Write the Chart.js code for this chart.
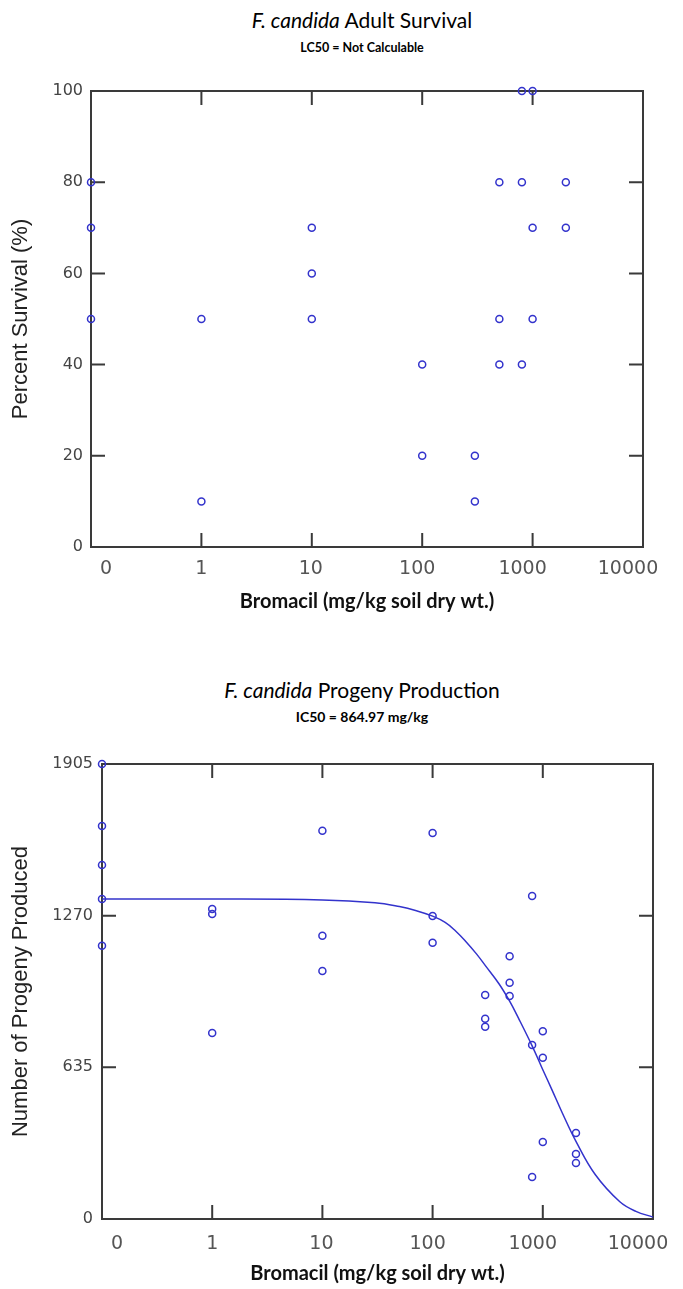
<!DOCTYPE html>
<html>
<head>
<meta charset="utf-8">
<script src="https://cdn.jsdelivr.net/npm/chart.js@4"></script>
<style>
  body { margin: 0; background: #fff; width: 683px; height: 1289px; position: relative; overflow: hidden; }
  .title { position: absolute; transform: translateX(-50%); white-space: nowrap; font-family: Lato, sans-serif; color: #000; text-align: center; }
  .main { font-size: 21px; line-height: 24px; }
  .sub { line-height: 18px; font-weight: bold; }
  .wrap { position: absolute; left: 0; }
</style>
</head>
<body>
<div class="title main" style="left:362px; top:8px"><i>F. candida</i> Adult Survival</div>
<div class="title sub" style="left:362px; top:39px; font-size:12.5px">LC50 = Not Calculable</div>
<div class="wrap" style="top:60px"><canvas id="survivalChart" width="683" height="580"></canvas></div>

<div class="title main" style="left:362px; top:678px"><i>F. candida</i> Progeny Production</div>
<div class="title sub" style="left:362px; top:708px; font-size:14px">IC50 = 864.97 mg/kg</div>
<div class="wrap" style="top:730px"><canvas id="progenyChart" width="683" height="559"></canvas></div>

<script>
// control (0 mg/kg) is drawn at the left edge of the log axis
const CONTROL_X = 0.1

const xTickValues = [0.1, 1, 10, 100, 1000, 10000]
const xTickLabels = ['0', '1', '10', '100', '1000', '10000']

// adult survival (%)
const survivalDose = [0, 0, 0, 1, 1, 10, 10, 10, 100, 100, 300, 300, 500, 500, 500, 800, 800, 800, 1000, 1000, 1000, 2000, 2000]
const survivalPct = [80, 70, 50, 50, 10, 70, 60, 50, 40, 20, 20, 10, 80, 50, 40, 100, 80, 40, 100, 70, 50, 80, 70]
const survivalYTicks = [0, 20, 40, 60, 80, 100]

// progeny counts
const progenyDose = [0, 0, 0, 0, 0, 1, 1, 1, 10, 10, 10, 100, 100, 100, 300, 300, 300, 500, 500, 500, 800, 800, 800, 1000, 1000, 1000, 2000, 2000, 2000]
const progenyCount = [1905, 1645, 1482, 1340, 1144, 1298, 1277, 779, 1626, 1186, 1038, 1616, 1269, 1157, 938, 838, 805, 1100, 989, 934, 1352, 729, 176, 786, 675, 322, 360, 272, 234]
const progenyYTicks = [0, 635, 1270, 1905]

// fitted curve
const curveDose = [0.1, 1, 10, 30, 50, 70, 100, 130, 160, 200, 250, 300, 400, 500, 600, 800, 1000, 1200, 1500, 2000, 3000, 5000, 7000, 10000]
const curveCount = [1340, 1340, 1336, 1324, 1308, 1292, 1268, 1242, 1208, 1162, 1110, 1062, 985, 912, 842, 725, 625, 545, 445, 325, 185, 72, 32, 8]

const pointColor = '#3333cc'
const axisColor = '#3a3a3a'

const toXY = (dose, vals) => dose.map((d, i) => ({ x: d === 0 ? CONTROL_X : d, y: vals[i] }))

// frame, inward tick marks on all four sides, and the x labels
const framePlugin = {
    id: 'frame',
    beforeDatasetsDraw(chart, args, opts) {
        const { ctx, chartArea: a, scales } = chart
        const len = 14
        ctx.save()
        ctx.strokeStyle = axisColor
        ctx.lineWidth = 2
        ctx.strokeRect(a.left, a.top, a.right - a.left, a.bottom - a.top)
        ctx.beginPath()
        scales.x.ticks.forEach(t => {
            const px = scales.x.getPixelForValue(t.value)
            if (px <= a.left + 1 || px >= a.right - 1) return
            ctx.moveTo(px, a.top); ctx.lineTo(px, a.top + len)
            ctx.moveTo(px, a.bottom); ctx.lineTo(px, a.bottom - len)
        })
        scales.y.ticks.forEach(t => {
            const py = scales.y.getPixelForValue(t.value)
            if (py <= a.top + 1 || py >= a.bottom - 1) return
            ctx.moveTo(a.left, py); ctx.lineTo(a.left + len, py)
            ctx.moveTo(a.right, py); ctx.lineTo(a.right - len, py)
        })
        ctx.stroke()

        // labels sit a little inside the ends, like the original
        const shift = [15, 0, -1, -5, -10, -15]
        ctx.fillStyle = '#555'
        ctx.font = '19px "DejaVu Sans"'
        ctx.textAlign = 'center'
        ctx.textBaseline = 'top'
        scales.x.ticks.forEach((t, i) => {
            const px = scales.x.getPixelForValue(t.value)
            ctx.fillText(xTickLabels[i], px + shift[i], a.bottom + opts.labelPad)
        })
        ctx.restore()
    }
}

const makeChart = (id, datasets, yTicks, yTitle, yWidth, xHeight, pad, xLabelPad, xTitlePad, yTickPad) => {
    const ctx = document.querySelector(`#${id}`).getContext('2d')
    return new Chart(ctx, {
        type: 'scatter',
        data: { datasets: datasets },
        options: {
            responsive: false,
            animation: false,
            devicePixelRatio: 1,
            layout: { padding: pad },
            plugins: {
                legend: { display: false },
                tooltip: { enabled: false },
                frame: { labelPad: xLabelPad }
            },
            scales: {
                x: {
                    type: 'logarithmic',
                    min: xTickValues[0],
                    max: xTickValues[xTickValues.length - 1],
                    afterBuildTicks: s => { s.ticks = xTickValues.map(v => ({ value: v })) },
                    afterFit: s => { s.height = xHeight },
                    grid: { display: false, drawTicks: false },
                    border: { display: false },
                    ticks: { display: false },
                    title: {
                        display: true,
                        text: 'Bromacil (mg/kg soil dry wt.)',
                        color: '#111',
                        font: { family: 'Lato', size: 20, weight: 'bold' },
                        padding: { top: 0, bottom: xTitlePad }
                    }
                },
                y: {
                    min: yTicks[0],
                    max: yTicks[yTicks.length - 1],
                    afterBuildTicks: s => { s.ticks = yTicks.map(v => ({ value: v })) },
                    afterFit: s => { s.width = yWidth },
                    grid: { display: false, drawTicks: false },
                    border: { display: false },
                    ticks: {
                        padding: yTickPad,
                        color: '#444',
                        font: { family: 'DejaVu Sans', size: 16 },
                        callback: v => String(v)
                    },
                    title: {
                        display: true,
                        text: yTitle,
                        color: '#222',
                        font: { family: 'Liberation Sans', size: 22 },
                        padding: { top: 8, bottom: 0 }
                    }
                }
            }
        },
        plugins: [framePlugin]
    })
}

const pointStyle = {
    showLine: false,
    pointStyle: 'circle',
    pointRadius: 3.5,
    pointBorderWidth: 1.5,
    pointBorderColor: pointColor,
    pointBackgroundColor: 'rgba(0,0,0,0)',
    clip: false
}

makeChart('survivalChart', [
    Object.assign({ label: 'Survival', data: toXY(survivalDose, survivalPct) }, pointStyle)
], survivalYTicks, 'Percent Survival (%)', 91, 93, { top: 31, right: 40, left: 0, bottom: 0 }, 13, 26, 8)

makeChart('progenyChart', [
    Object.assign({ label: 'Progeny', data: toXY(progenyDose, progenyCount) }, pointStyle),
    {
        label: 'Fit',
        data: toXY(curveDose, curveCount),
        showLine: true,
        borderColor: pointColor,
        borderWidth: 1.5,
        pointRadius: 0,
        tension: 0.4,
        clip: false
    }
], progenyYTicks, 'Number of Progeny Produced', 102, 70, { top: 34, right: 30, left: 0, bottom: 0 }, 16, 3, 9)
</script>
</body>
</html>
